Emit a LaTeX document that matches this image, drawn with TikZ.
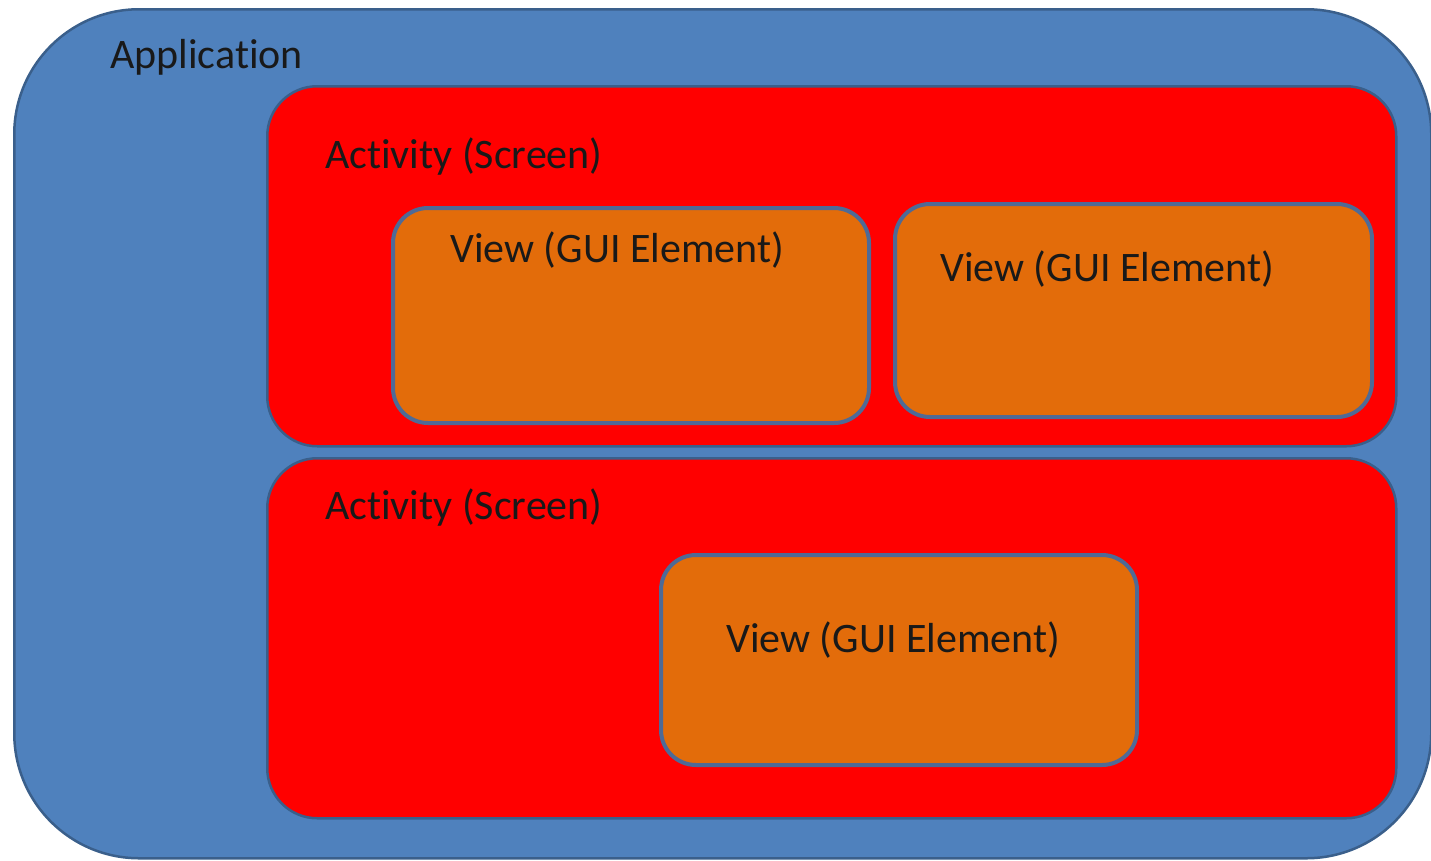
\documentclass[tikz,border=0pt]{standalone}
\usepackage{fontspec}
\setmainfont[Ligatures={NoCommon}]{Carlito}
\definecolor{appblue}{HTML}{4F81BD}
\definecolor{appedge}{HTML}{3A5F8B}
\definecolor{actred}{HTML}{FF0000}
\definecolor{viewor}{HTML}{E36C0A}
\definecolor{viewedge}{HTML}{4F6A96}
\tikzset{
  appbox/.style={draw=appedge, line width=2.5pt, fill=appblue, rounded corners=125pt, inner sep=0pt, anchor=north west},
  actbox/.style={draw=appedge, line width=2.5pt, fill=actred, rounded corners=50pt, inner sep=0pt, anchor=north west},
  viewbox/.style={draw=viewedge, line width=4pt, fill=viewor, rounded corners=35pt, inner sep=0pt, anchor=north west},
  lbl/.style={anchor=base west, inner sep=0pt, font=\fontsize{42}{50}\selectfont, text=black!90}
}
\begin{document}
\begin{tikzpicture}[x=1pt,y=-1pt]
\useasboundingbox (0,0) rectangle (1431,860);
\node[appbox, minimum width=1417pt, minimum height=849pt] (app) at (13,8) {};
\node[actbox, minimum width=1129pt, minimum height=360pt] (act1) at (266,85) {};
\node[actbox, minimum width=1129pt, minimum height=360pt] (act2) at (266,457) {};
\node[viewbox, minimum width=476pt, minimum height=215pt] (v1) at (391,206) {};
\node[viewbox, minimum width=477pt, minimum height=213pt] (v2) at (893,202) {};
\node[viewbox, minimum width=476pt, minimum height=210pt] (v3) at (659,553) {};
\node[lbl] (tapp) at (110,68) {Application};
\node[lbl] (tact1) at (325,168) {Activity (Screen)};
\node[lbl] (tact2) at (325,519) {Activity (Screen)};
\node[lbl] (tv1) at (450,262) {View (GUI Element)};
\node[lbl] (tv2) at (940,281) {View (GUI Element)};
\node[lbl] (tv3) at (726,652) {View (GUI Element)};
\end{tikzpicture}
\end{document}
